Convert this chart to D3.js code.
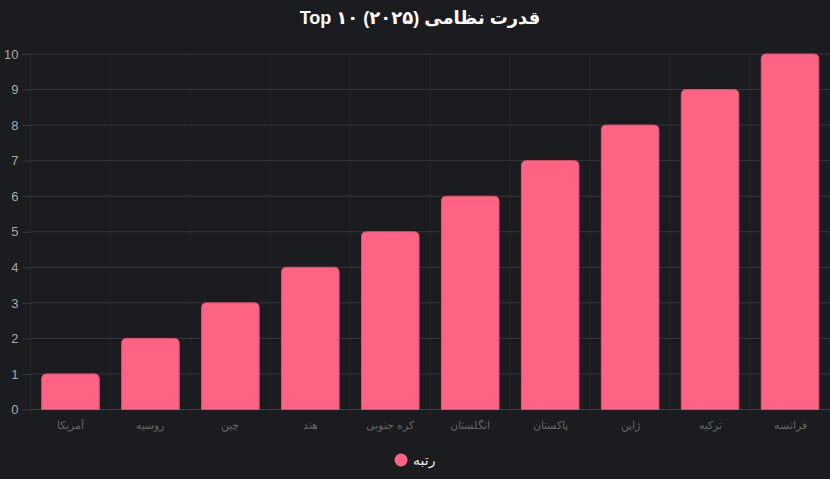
<!DOCTYPE html>
<html>
<head>
<meta charset="utf-8">
<script src="https://d3js.org/d3.v7.min.js"></script>
<style>
  html, body { margin: 0; padding: 0; background: #1b1c20; }
  svg { display: block; font-family: "Liberation Sans", Arial, "DejaVu Sans", sans-serif; }
</style>
</head>
<body>
<svg width="830" height="479"></svg>
<script>
// داده‌ها
var countries = ["آمریکا", "روسیه", "چین", "هند", "کره جنوبی", "انگلستان", "پاکستان", "ژاپن", "ترکیه", "فرانسه"];
var ranks = [1, 2, 3, 4, 5, 6, 7, 8, 9, 10];
var yTicks = [0, 1, 2, 3, 4, 5, 6, 7, 8, 9, 10];
var seriesName = "رتبه";
var title = "Top ۱۰ (۲۰۲۵) قدرت نظامی";

var svg = d3.select("svg");
var width = 830, height = 479;
var margin = { top: 54, right: 0, bottom: 70, left: 30.5 };

svg.append("rect").attr("width", width).attr("height", height).attr("fill", "#1b1c20");

var x = d3.scaleBand()
  .domain(countries)
  .range([margin.left, width - margin.right])
  .paddingInner(0.28)
  .paddingOuter(0.14);

var xGrid = d3.scaleLinear().domain([0, countries.length]).range([margin.left, width - margin.right]);

var y = d3.scaleLinear()
  .domain([0, 10])
  .range([409.5, margin.top]);

// خطوط شبکه عمودی
svg.append("g")
  .selectAll("line")
  .data(d3.range(countries.length + 1))
  .join("line")
  .attr("x1", function(d) { return xGrid(d); })
  .attr("x2", function(d) { return xGrid(d); })
  .attr("y1", y(10))
  .attr("y2", y(0) + 8)
  .attr("stroke", "#232428")
  .attr("stroke-width", 1);

// محور y
var yAxis = d3.axisLeft(y).tickValues(yTicks).tickSize(8).tickPadding(4);
var gy = svg.append("g")
  .attr("transform", "translate(" + margin.left + ",0)")
  .call(yAxis);
gy.select(".domain").remove();
gy.selectAll(".tick line").attr("stroke", "#3a3b3f");
gy.selectAll(".tick text")
  .attr("fill", "#a8a8a8")
  .attr("font-size", 13);

// خطوط شبکه افقی
svg.append("g")
  .selectAll("line")
  .data(yTicks)
  .join("line")
  .attr("x1", margin.left)
  .attr("x2", width - margin.right)
  .attr("y1", function(d) { return y(d); })
  .attr("y2", function(d) { return y(d); })
  .attr("stroke", function(d) { return d === 0 ? "#3f4044" : "#36373b"; })
  .attr("stroke-width", 1);

// میله‌ها با گوشه‌های گرد بالا
function barPath(d, i) {
  var x0 = x(countries[i]), w = x.bandwidth();
  var top = y(d), bottom = y(0), r = Math.min(5, (bottom - top) / 2);
  return "M" + x0 + "," + bottom +
    "V" + (top + r) +
    "Q" + x0 + "," + top + " " + (x0 + r) + "," + top +
    "H" + (x0 + w - r) +
    "Q" + (x0 + w) + "," + top + " " + (x0 + w) + "," + (top + r) +
    "V" + bottom + "Z";
}

svg.append("g")
  .selectAll("path")
  .data(ranks)
  .join("path")
  .attr("d", barPath)
  .attr("fill", "#ff6384")
  .attr("stroke", "#e0506f")
  .attr("stroke-width", 1);

// محور x
var xAxis = d3.axisBottom(x).tickSize(0).tickPadding(12);
var gx = svg.append("g")
  .attr("transform", "translate(0," + y(0) + ")")
  .call(xAxis);
gx.select(".domain").remove();
gx.selectAll(".tick text")
  .attr("fill", "#666666")
  .attr("font-size", 11)
  .attr("direction", "rtl");

// عنوان
svg.append("text")
  .attr("x", width / 2 + 5)
  .attr("y", 24)
  .attr("text-anchor", "middle")
  .attr("fill", "#ffffff")
  .attr("font-size", 18)
  .attr("font-weight", "bold")
  .attr("direction", "ltr")
  .text(title);

// راهنما
var legend = svg.append("g").attr("transform", "translate(401,460)");
legend.append("circle").attr("r", 6.5).attr("fill", "#ff6384");
legend.append("text")
  .attr("x", 12)
  .attr("y", 5)
  .attr("fill", "#e6e6e6")
  .attr("font-size", 14)
  .text(seriesName);
</script>
</body>
</html>
